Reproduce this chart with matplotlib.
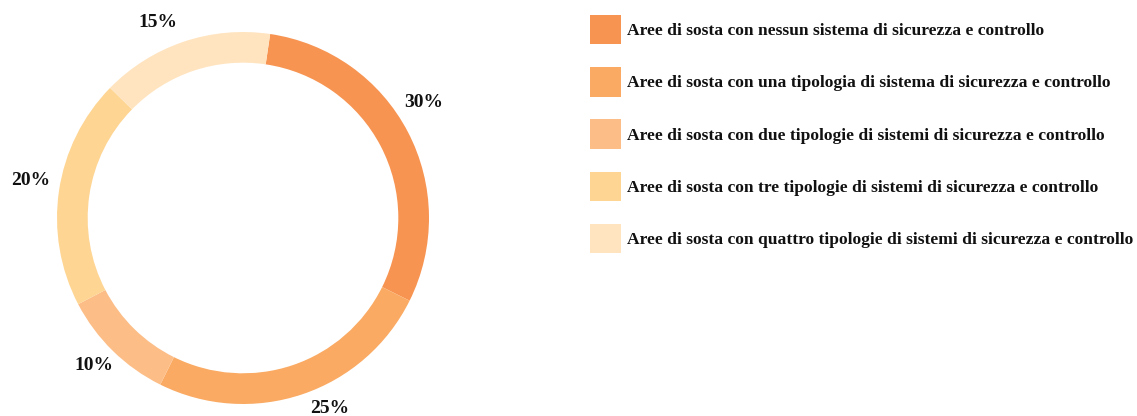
import matplotlib
matplotlib.use("Agg")
import matplotlib.pyplot as plt
import numpy as np

categories = [
    "Aree di sosta con nessun sistema di sicurezza e controllo",
    "Aree di sosta con una tipologia di sistema di sicurezza e controllo",
    "Aree di sosta con due tipologie di sistemi di sicurezza e controllo",
    "Aree di sosta con tre tipologie di sistemi di sicurezza e controllo",
    "Aree di sosta con quattro tipologie di sistemi di sicurezza e controllo",
]
shares = [30, 25, 10, 20, 15]
colors = ["#F79452", "#FAAA62", "#FCBD87", "#FED593", "#FFE4BF"]

W, H = 1137, 416
fig = plt.figure(figsize=(W / 100, H / 100), dpi=100)
ax = fig.add_axes([0, 0, 1, 1])

cx, cy, R = 243, H - 218, 186
wedges, _ = ax.pie(
    shares,
    colors=colors,
    startangle=81.6,
    counterclock=False,
    center=(cx, cy),
    radius=R,
    wedgeprops=dict(width=R * 0.165, linewidth=0),
    frame=True,
)
ax.set_xlim(0, W)
ax.set_ylim(0, H)
ax.set_aspect("equal")
ax.axis("off")

# percentage labels just outside the ring, slightly rotated for legibility
angle_shift = [5, 6, -1, -1.6, 5]
label_dist = [1.156, 1.124, 1.129, 1.161, 1.145]
for w, v, da, ld in zip(wedges, shares, angle_shift, label_dist):
    mid = np.deg2rad((w.theta1 + w.theta2) / 2 + da)
    ax.text(cx + ld * R * np.cos(mid), cy + ld * R * np.sin(mid), f"{v}%",
            ha="center", va="center", family="Liberation Serif",
            weight="bold", fontsize=14, color="#111111")

leg = fig.legend(
    wedges, categories,
    loc="upper left",
    bbox_to_anchor=(590 / W, 1 - 15 / H),
    bbox_transform=fig.transFigure,
    frameon=False,
    borderpad=0, borderaxespad=0,
    prop=dict(family="Liberation Serif", weight="bold", size=12.6),
    handlelength=1.77, handleheight=2.2,
    labelspacing=1.31, handletextpad=0.34,
)
for t in leg.get_texts():
    t.set_color("#111111")

fig.savefig("out.png", dpi=100)
